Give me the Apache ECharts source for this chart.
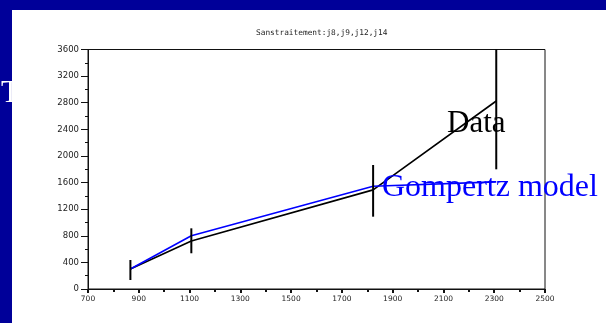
<!DOCTYPE html>
<html>
<head>
<meta charset="utf-8">
<script src="https://cdn.jsdelivr.net/npm/echarts@6/dist/echarts.min.js"></script>
<style>
html,body{margin:0;padding:0;background:#000099;}
#c{width:606px;height:323px;}
</style>
</head>
<body>
<div id="c"></div>
<script>
// ---- data ----
var titleText = 'Sanstraitement:j8,j9,j12,j14';
var xValues = [867, 1107, 1823, 2308];
var dataValues = [300, 721, 1490, 2826];
var modelValues = [300, 801, 1545, 1610];
var errLow = [135, 537, 1087, 1799];
var errHigh = [436, 912, 1864, 3600];
var dataLabel = 'Data';
var modelLabel = 'Gompertz model';
var xMin = 700, xMax = 2500, xStep = 200;
var yMin = 0, yMax = 3600, yStep = 400;

var chart = echarts.init(document.getElementById('c'), null, {renderer: 'canvas'});

function pairs(xs, ys) { return xs.map(function (x, i) { return [x, ys[i]]; }); }
var errData = xValues.map(function (x, i) { return [x, errLow[i], errHigh[i]]; });
function plain(v) { return String(v); }

var option = {
  backgroundColor: '#000099',
  animation: false,
  title: {
    text: titleText,
    left: 251, top: 24,
    textStyle: {fontFamily: 'DejaVu Sans Mono', fontSize: 7.8, fontWeight: 'normal', color: '#222'}
  },
  grid: {left: 88, right: 61, top: 49.5, bottom: 34, show: true, borderColor: '#111', borderWidth: 1, backgroundColor: 'transparent'},
  xAxis: {
    type: 'value', min: xMin, max: xMax, interval: xStep,
    axisLine: {show: true, lineStyle: {color: '#111', width: 1}},
    axisTick: {show: true, length: 4, lineStyle: {color: '#111', width: 2}},
    minorTick: {show: true, splitNumber: 2, length: 3, lineStyle: {color: '#111', width: 2}},
    splitLine: {show: false},
    axisLabel: {margin: 6, fontFamily: 'DejaVu Sans', fontSize: 7.5, color: '#222', formatter: plain}
  },
  yAxis: {
    type: 'value', min: yMin, max: yMax, interval: yStep,
    axisLine: {show: true, lineStyle: {color: '#111', width: 1}},
    axisTick: {show: true, length: 7, lineStyle: {color: '#111', width: 1}},
    minorTick: {show: true, splitNumber: 2, length: 3, lineStyle: {color: '#111', width: 1}},
    splitLine: {show: false},
    axisLabel: {margin: 9, fontFamily: 'DejaVu Sans', fontSize: 8.5, color: '#222', formatter: plain}
  },
  graphic: [
    {type: 'rect', z: -10, shape: {x: 12, y: 10, width: 594, height: 313}, style: {fill: '#ffffff'}},
    {type: 'text', z: -5, left: 1, top: 78, style: {text: 'T', fill: '#ffffff', font: '31px "Liberation Serif"'}},
    {type: 'text', z: 100, left: 447, top: 108, style: {text: dataLabel, fill: '#000000', font: '31px "Liberation Serif"'}},
    {type: 'text', z: 100, left: 382, top: 172, style: {text: modelLabel, fill: '#0000ff', font: '32px "Liberation Serif"'}}
  ],
  series: [
    {
      type: 'line', data: pairs(xValues, dataValues), symbol: 'none',
      lineStyle: {color: '#000000', width: 1.6}, z: 3
    },
    {
      type: 'line', data: pairs(xValues, modelValues), symbol: 'none',
      lineStyle: {color: '#0000ff', width: 1.6}, z: 4
    },
    {
      type: 'custom', z: 5,
      data: errData,
      renderItem: function (params, api) {
        var p1 = api.coord([api.value(0), api.value(1)]);
        var p2 = api.coord([api.value(0), api.value(2)]);
        return {type: 'line', shape: {x1: p1[0], y1: p1[1], x2: p2[0], y2: p2[1]},
          style: {stroke: '#000', lineWidth: 2}};
      }
    }
  ]
};
chart.setOption(option);
</script>
</body>
</html>
